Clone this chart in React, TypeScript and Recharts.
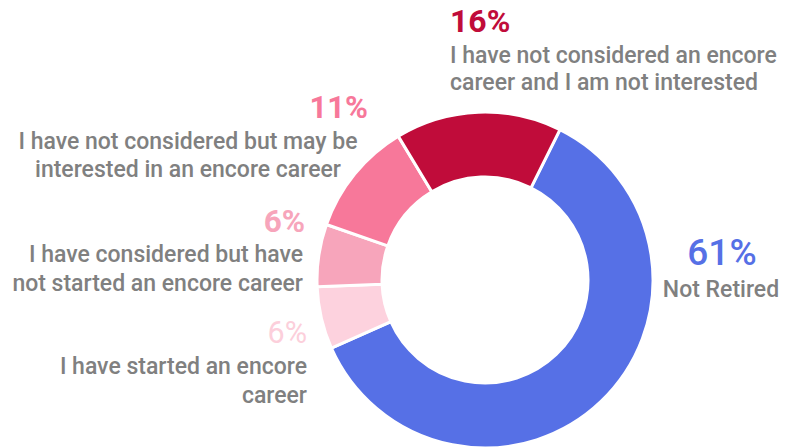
import React from "react";
import { PieChart, Pie, Cell } from "recharts";

const categories = [
  "Not Retired",
  "I have started an encore career",
  "I have considered but have not started an encore career",
  "I have not considered but may be interested in an encore career",
  "I have not considered an encore career and I am not interested",
];
const values = [61, 6, 6, 11, 16];
const labelLines = [
  ["Not Retired"],
  ["I have started an encore", "career"],
  ["I have considered but have", "not started an encore career"],
  ["I have not considered but may be", "interested in an encore career"],
  ["I have not considered an encore", "career and I am not interested"],
];
const colors = ["#5670E6", "#FDD2DE", "#F7A5BB", "#F7789A", "#C00C3A"];

// label layout, relative to the pie centre
const labelLayout = [
  { x: 236, pctX: 237, pctY: -15, lineY: [17], pctSize: 37, pctWeight: 500, pctAnchor: "middle", lineAnchor: "middle" },
  { x: -178, pctX: -178, pctY: 63, lineY: [94, 123], pctSize: 30.5, pctWeight: 400, pctAnchor: "end", lineAnchor: "end" },
  { x: -182, pctX: -180, pctY: -48, lineY: [-18, 11], pctSize: 31.5, pctWeight: 700, pctAnchor: "end", lineAnchor: "end" },
  { x: -297, pctX: -117, pctY: -162, lineY: [-131, -103], pctSize: 31, pctWeight: 700, pctAnchor: "end", lineAnchor: "middle" },
  { x: -35, pctX: -35, pctY: -248, lineY: [-217, -190], pctSize: 32, pctWeight: 700, pctAnchor: "start", lineAnchor: "start" },
];

const data = categories.map((name, i) => ({ name, value: values[i] }));

const FONT = "Roboto, 'Liberation Sans', sans-serif";

const renderLabel = (props: any) => {
  const { cx, cy, index } = props;
  const L = labelLayout[index];
  return (
    <g key={`lbl-${index}`}>
      <text
        x={cx + L.pctX}
        y={cy + L.pctY}
        textAnchor={L.pctAnchor}
        fill={colors[index] === "#FDD2DE" ? "#FCCFDB" : colors[index]}
        fontFamily={FONT}
        fontSize={L.pctSize}
        fontWeight={L.pctWeight}
      >
        {`${values[index]}%`}
      </text>
      {labelLines[index].map((line, j) => (
        <text
          key={j}
          x={cx + L.x}
          y={cy + L.lineY[j]}
          textAnchor={L.lineAnchor}
          fill="#808080"
          fontFamily={FONT}
          fontSize={23}
          fontWeight={500}
        >
          {line}
        </text>
      ))}
    </g>
  );
};

export default function App() {
  return (
    <div style={{ width: 785, height: 447 }}>
      <style>{`body{margin:0;}`}</style>
      <PieChart width={785} height={447} margin={{ top: 0, right: 0, bottom: 0, left: 0 }}>
        <Pie
          data={data}
          dataKey="value"
          nameKey="name"
          cx={485}
          cy={280}
          innerRadius={103}
          outerRadius={168}
          startAngle={63.5}
          endAngle={-296.5}
          stroke="#ffffff"
          strokeWidth={3}
          label={renderLabel}
          labelLine={false}
          isAnimationActive={false}
        >
          {data.map((d, i) => (
            <Cell key={d.name} fill={colors[i]} />
          ))}
        </Pie>
      </PieChart>
    </div>
  );
}
